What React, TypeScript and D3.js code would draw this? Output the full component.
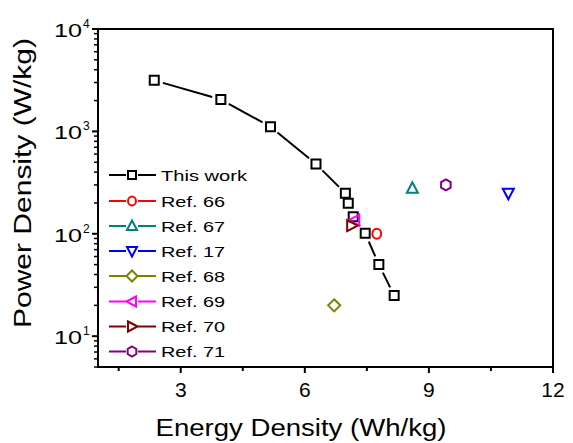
import React from "react";
import * as d3 from "d3";

const W = 573;
const H = 443;
const M = { left: 98, right: 553, top: 29, bottom: 367 };

const thisWorkX = [2.36, 3.97, 5.17, 6.27, 6.98, 7.05, 7.17, 7.46, 7.79, 8.16];
const thisWorkY = [3150, 2050, 1110, 480, 249, 199, 147, 101, 50, 25];

const refNames = ["Ref. 66", "Ref. 67", "Ref. 17", "Ref. 68", "Ref. 69", "Ref. 70", "Ref. 71"];
const refX = [7.74, 8.6, 10.92, 6.71, 7.21, 7.13, 9.41];
const refY = [100, 278, 249, 20, 136, 120, 300];
const refColors = ["#ff0000", "#008080", "#0000ff", "#808000", "#ff00ff", "#800000", "#800080"];
const refShapes = ["circle", "triUp", "triDown", "diamond", "triLeft", "triRight", "hexagon"];

const xMajorTicks = [3, 6, 9, 12];
const xMinorTicks = [1.5, 4.5, 7.5, 10.5];
const yDecades = [1, 2, 3, 4];

function markerPath(shape: string, cx: number, cy: number, s: number): string {
  const r = s / 2;
  switch (shape) {
    case "square":
      return `M${cx - r},${cy - r}h${s}v${s}h${-s}Z`;
    case "circle": {
      const rx = r * 0.8;
      const ry = r * 0.9;
      return `M${cx - rx},${cy} A${rx},${ry} 0 1,0 ${cx + rx},${cy} A${rx},${ry} 0 1,0 ${cx - rx},${cy} Z`;
    }
    case "triUp":
      return `M${cx},${cy - r * 1.1}L${cx + r},${cy + r * 0.8}L${cx - r},${cy + r * 0.8}Z`;
    case "triDown":
      return `M${cx},${cy + r * 1.1}L${cx + r},${cy - r * 0.8}L${cx - r},${cy - r * 0.8}Z`;
    case "triLeft":
      return `M${cx - r * 1.1},${cy}L${cx + r * 0.8},${cy - r}L${cx + r * 0.8},${cy + r}Z`;
    case "triRight":
      return `M${cx + r * 1.1},${cy}L${cx - r * 0.8},${cy - r}L${cx - r * 0.8},${cy + r}Z`;
    case "diamond":
      return `M${cx},${cy - r * 1.1}L${cx + r * 1.1},${cy}L${cx},${cy + r * 1.1}L${cx - r * 1.1},${cy}Z`;
    case "hexagon": {
      const pts = d3.range(6).map((i) => {
        const a = (Math.PI / 3) * i - Math.PI / 2;
        return [cx + r * Math.cos(a), cy + r * Math.sin(a)];
      });
      return "M" + pts.map((p) => p.join(",")).join("L") + "Z";
    }
  }
  return "";
}

export default function App() {
  const x = d3.scaleLinear().domain([1, 12]).range([M.left, M.right]);
  const y = d3.scaleLog().domain([5, 10000]).range([M.bottom, M.top]);

  const pts = thisWorkX.map((v, i) => [x(v), y(thisWorkY[i])]);
  const gap = 9;
  const segs: any[] = [];
  for (let i = 0; i < pts.length - 1; i++) {
    const [x1, y1] = pts[i];
    const [x2, y2] = pts[i + 1];
    const dx = x2 - x1;
    const dy = y2 - y1;
    const len = Math.hypot(dx, dy);
    if (len <= 2 * gap + 1) continue;
    const ux = dx / len;
    const uy = dy / len;
    segs.push(
      <line key={"s" + i} x1={x1 + ux * gap} y1={y1 + uy * gap} x2={x2 - ux * gap} y2={y2 - uy * gap} stroke="#000" strokeWidth={2} />
    );
  }

  const yMinor: number[] = [];
  [5, 6, 7, 8, 9].forEach((m) => yMinor.push(m));
  [1, 2, 3].forEach((d) => {
    for (let m = 2; m <= 9; m++) yMinor.push(m * Math.pow(10, d));
  });

  const legendYs = [175, 201, 226, 251, 276, 301.5, 326.5, 351.5];
  const legendItems = [
    { name: "This work", color: "#000", shape: "square", tl: 86 },
    ...refNames.map((n, i) => ({ name: n, color: refColors[i], shape: refShapes[i], tl: 64 })),
  ];

  const font = "'Liberation Sans', Arial, sans-serif";

  return (
    <svg width={W} height={H} style={{ position: "absolute", left: 0, top: 0, background: "#fff" }} fontFamily={font}>
      <rect x={0} y={0} width={W} height={H} fill="#fff" />
      {/* ticks */}
      {xMajorTicks.map((t) => (
        <line key={"xM" + t} x1={x(t)} x2={x(t)} y1={M.bottom} y2={M.bottom + 6} stroke="#000" strokeWidth={2} />
      ))}
      {xMinorTicks.map((t) => (
        <line key={"xm" + t} x1={x(t)} x2={x(t)} y1={M.bottom} y2={M.bottom + 4} stroke="#000" strokeWidth={2} />
      ))}
      {yDecades.map((d) => (
        <line key={"yM" + d} x1={M.left - 6} x2={M.left} y1={y(Math.pow(10, d))} y2={y(Math.pow(10, d))} stroke="#000" strokeWidth={2} />
      ))}
      {yMinor.map((t) => (
        <line key={"ym" + t} x1={M.left - 4} x2={M.left} y1={y(t)} y2={y(t)} stroke="#000" strokeWidth={1.5} />
      ))}
      {/* frame */}
      <rect x={M.left} y={M.top} width={M.right - M.left} height={M.bottom - M.top} fill="none" stroke="#000" strokeWidth={2} />
      {/* tick labels */}
      {xMajorTicks.map((t) => (
        <text key={"xl" + t} x={x(t)} y={397} fontSize={21} textAnchor="middle" fill="#000">
          {t}
        </text>
      ))}
      {yDecades.map((d) => {
        const ty = y(Math.pow(10, d));
        return (
          <g key={"yl" + d}>
            <text x={54} y={ty + 8} fontSize={19} textLength={28} lengthAdjust="spacingAndGlyphs" fill="#000">
              10
            </text>
            <text x={83} y={ty - 1} fontSize={12} fill="#000">
              {d}
            </text>
          </g>
        );
      })}
      {/* axis titles */}
      <text x={301} y={436} fontSize={23} textAnchor="middle" textLength={291} lengthAdjust="spacingAndGlyphs" fill="#000">
        Energy Density (Wh/kg)
      </text>
      <text
        transform={`translate(31,183) rotate(-90)`}
        fontSize={23}
        textAnchor="middle"
        textLength={290}
        lengthAdjust="spacingAndGlyphs"
        fill="#000"
      >
        Power Density (W/kg)
      </text>
      {/* this work */}
      <g>{segs}</g>
      {pts.map(([px, py], i) => (
        <path key={"tw" + i} d={markerPath("square", px, py, 9)} fill="none" stroke="#000" strokeWidth={2} />
      ))}
      {/* refs */}
      {refX.map((v, i) => (
        <path
          key={"r" + i}
          d={markerPath(refShapes[i], x(v), y(refY[i]), 11)}
          fill="none"
          stroke={refColors[i]}
          strokeWidth={2}
        />
      ))}
      {/* legend */}
      {legendItems.map((it, i) => {
        const ly = legendYs[i];
        return (
          <g key={"lg" + i}>
            <line x1={109} x2={126} y1={ly} y2={ly} stroke={it.color} strokeWidth={2} />
            <line x1={138} x2={156} y1={ly} y2={ly} stroke={it.color} strokeWidth={2} />
            <path d={markerPath(it.shape, 132, ly, it.shape === "square" ? 8 : 10)} fill="#fff" stroke={it.color} strokeWidth={2} />
            <text x={161} y={ly + 5.5} fontSize={14.5} textLength={it.tl} lengthAdjust="spacingAndGlyphs" fill="#000">
              {it.name}
            </text>
          </g>
        );
      })}
    </svg>
  );
}
